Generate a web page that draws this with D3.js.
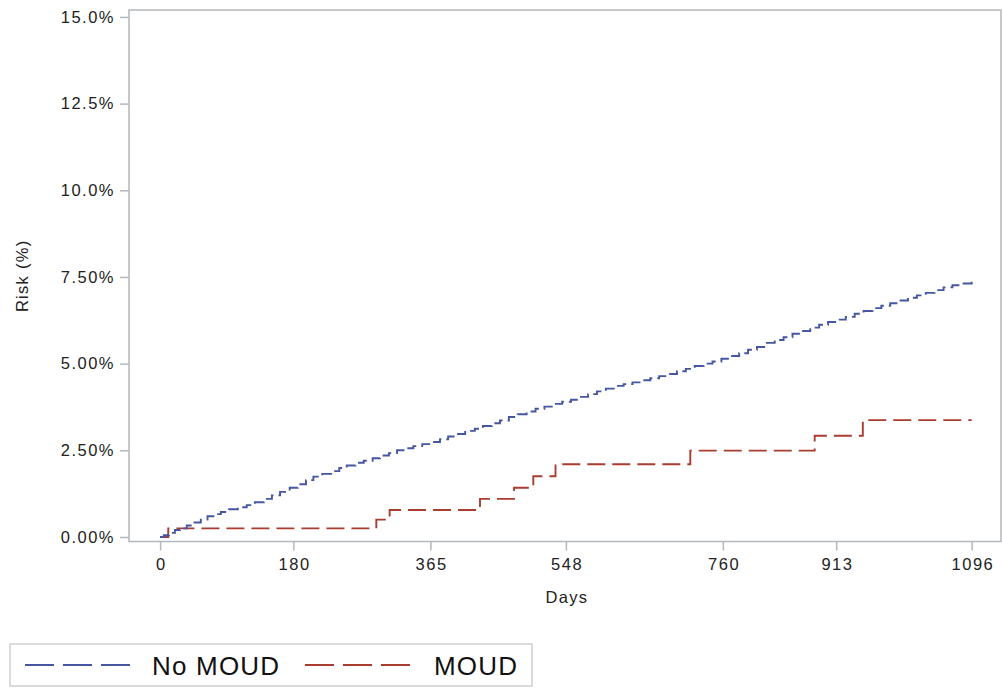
<!DOCTYPE html>
<html>
<head>
<meta charset="utf-8">
<script src="https://cdn.jsdelivr.net/npm/d3@7"></script>
<style>
  html, body { margin: 0; padding: 0; background: #fff; }
  svg { display: block; font-family: "Liberation Sans", Arial, sans-serif; }
</style>
</head>
<body>
<svg id="chart" width="1002" height="688"></svg>
<script>
// Cumulative risk (%) by day, no MOUD group (small Kaplan-Meier style steps)
const noMoudDays = [0, 5, 12, 20, 27, 36, 45, 55, 64, 72, 82, 93, 105, 117, 128, 140, 151, 162, 175, 186,
  197, 207, 219, 231, 242, 252, 264, 275, 287, 297, 309, 320, 331, 342, 354, 365, 378, 389, 400, 412,
  425, 436, 448, 459, 471, 483, 495, 507, 519, 531, 543, 555, 566, 578, 590, 602, 614, 626, 638, 650,
  662, 674, 686, 698, 710, 722, 734, 746, 758, 770, 782, 794, 806, 818, 830, 842, 854, 866, 878, 890,
  902, 914, 926, 938, 950, 962, 974, 986, 998, 1010, 1022, 1034, 1046, 1058, 1070, 1082, 1096];
const noMoudRisk = [0, 0.05, 0.12, 0.2, 0.25, 0.33, 0.42, 0.5, 0.6, 0.66, 0.72, 0.8, 0.86, 0.92, 1.0, 1.1, 1.2, 1.3, 1.42, 1.52,
  1.64, 1.74, 1.82, 1.9, 1.99, 2.06, 2.14, 2.2, 2.27, 2.35, 2.42, 2.5, 2.56, 2.62, 2.68, 2.74, 2.82, 2.9, 2.97, 3.06,
  3.12, 3.2, 3.28, 3.36, 3.46, 3.54, 3.62, 3.7, 3.76, 3.84, 3.9, 3.96, 4.04, 4.12, 4.2, 4.28, 4.36, 4.41, 4.46, 4.52,
  4.58, 4.64, 4.7, 4.78, 4.85, 4.93, 5.0, 5.06, 5.14, 5.22, 5.3, 5.4, 5.48, 5.6, 5.68, 5.76, 5.86, 5.94, 6.04, 6.12,
  6.2, 6.27, 6.35, 6.44, 6.52, 6.6, 6.67, 6.74, 6.82, 6.9, 6.97, 7.04, 7.12, 7.2, 7.26, 7.31, 7.36];

// Cumulative risk (%) by day, MOUD group
const moudDays = [0, 11, 292, 310, 432, 478, 504, 534, 716, 884, 949, 1096];
const moudRisk = [0, 0.25, 0.5, 0.78, 1.1, 1.42, 1.75, 2.1, 2.49, 2.92, 3.37, 3.37];

// Axis ticks
const xTickValues = [0, 180, 365, 548, 760, 913, 1096];
const yTickValues = [0, 2.5, 5, 7.5, 10, 12.5, 15];
const yTickLabels = ["0.00%", "2.50%", "5.00%", "7.50%", "10.0%", "12.5%", "15.0%"];

const seriesNames = ["No MOUD", "MOUD"];
const seriesColors = ["#4656a0", "#A83D30"];

const svg = d3.select("#chart");

// Plot frame in pixels
const frame = { left: 129, right: 1001, top: 10, bottom: 541.5 };

const x = d3.scaleLinear().domain([-42, 1135.6]).range([frame.left, frame.right]);
const y = d3.scaleLinear().domain([-0.13, 15.2]).range([frame.bottom, frame.top]);

const axisColor = "#b3b8bc";
const textColor = "#222";

// Frame
svg.append("rect")
  .attr("x", frame.left).attr("y", frame.top)
  .attr("width", frame.right - frame.left).attr("height", frame.bottom - frame.top)
  .attr("fill", "none").attr("stroke", axisColor).attr("stroke-width", 1.5);

// Y axis
const yAxis = svg.append("g")
  .attr("transform", `translate(${frame.left},0)`)
  .call(d3.axisLeft(y).tickValues(yTickValues)
    .tickFormat((d, i) => yTickLabels[i]).tickSize(9).tickPadding(5));
yAxis.select(".domain").remove();
yAxis.selectAll(".tick line").attr("stroke", axisColor).attr("stroke-width", 1.5);
yAxis.selectAll(".tick text")
  .attr("fill", textColor).style("font-size", "16.5px").style("letter-spacing", "1.5px")
  .style("font-family", "'Liberation Sans', Arial, sans-serif");

// X axis
const xAxis = svg.append("g")
  .attr("transform", `translate(0,${frame.bottom})`)
  .call(d3.axisBottom(x).tickValues(xTickValues).tickFormat(d3.format("d")).tickSize(9).tickPadding(8));
xAxis.select(".domain").remove();
xAxis.selectAll(".tick line").attr("stroke", axisColor).attr("stroke-width", 1.5);
xAxis.selectAll(".tick text")
  .attr("fill", textColor).style("font-size", "16.5px").style("letter-spacing", "1.5px")
  .attr("dx", "0.75px")
  .style("font-family", "'Liberation Sans', Arial, sans-serif");

// Axis titles
svg.append("text")
  .attr("x", (x(0) + x(1096)) / 2 + 1).attr("y", 603)
  .attr("text-anchor", "middle").attr("fill", textColor)
  .style("font-size", "16.5px").style("letter-spacing", "1.3px")
  .text("Days");

svg.append("text")
  .attr("transform", `translate(28,${(frame.top + frame.bottom) / 2}) rotate(-90)`)
  .attr("text-anchor", "middle").attr("fill", textColor)
  .style("font-size", "16.5px").style("letter-spacing", "1.3px")
  .text("Risk (%)");

// Step curves
const line = d3.line()
  .x(d => x(d[0]))
  .y(d => y(d[1]))
  .curve(d3.curveStepAfter);

const noMoudPts = noMoudDays.map((d, i) => [d, noMoudRisk[i]]);
const moudPts = moudDays.map((d, i) => [d, moudRisk[i]]);

svg.append("path")
  .datum(moudPts)
  .attr("d", line)
  .attr("fill", "none").attr("stroke", seriesColors[1])
  .attr("stroke-width", 1.9).attr("stroke-dasharray", "18,7");

svg.append("path")
  .datum(noMoudPts)
  .attr("d", line)
  .attr("fill", "none").attr("stroke", seriesColors[0])
  .attr("stroke-width", 1.9).attr("stroke-dasharray", "11,5");

// Legend
const legend = svg.append("g");
legend.append("rect")
  .attr("x", 10).attr("y", 644).attr("width", 522).attr("height", 42)
  .attr("fill", "#fff").attr("stroke", "#cfcfcf").attr("stroke-width", 1.5);

const legendItems = [
  { x0: 25, tx: 152 },
  { x0: 305, tx: 434 }
];
legendItems.forEach((item, i) => {
  legend.append("line")
    .attr("x1", item.x0).attr("x2", item.x0 + 105)
    .attr("y1", 665).attr("y2", 665)
    .attr("stroke", seriesColors[i]).attr("stroke-width", 2)
    .attr("stroke-dasharray", "29,9");
  legend.append("text")
    .attr("x", item.tx).attr("y", 674.5)
    .attr("fill", "#111")
    .style("font-size", "26px").style("letter-spacing", "1.2px")
    .text(seriesNames[i]);
});
</script>
</body>
</html>
